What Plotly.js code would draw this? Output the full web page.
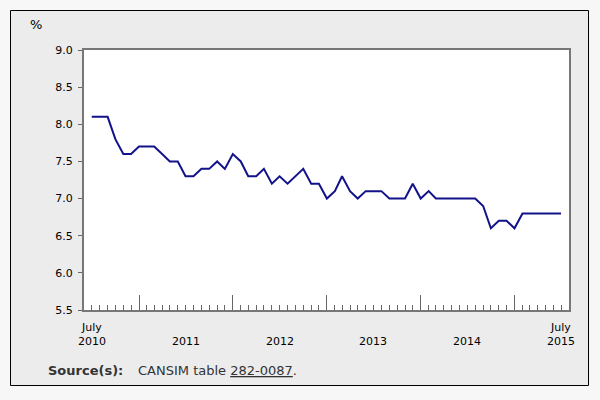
<!DOCTYPE html>
<html>
<head>
<meta charset="utf-8">
<script src="https://cdn.plot.ly/plotly-3.0.1.min.js"></script>
<style>html,body{margin:0;padding:0;background:#f7f7f7;}#chart{width:600px;height:400px;}</style>
</head>
<body>
<div id="chart"></div>
<script>
// Monthly rate (%), July 2010 to July 2015
const startYear = 2010;
const startMonth = 7;
const values = [
  8.1, 8.1, 8.1, 7.8, 7.6, 7.6,
  7.7, 7.7, 7.7, 7.6, 7.5, 7.5, 7.3, 7.3, 7.4, 7.4, 7.5, 7.4,
  7.6, 7.5, 7.3, 7.3, 7.4, 7.2, 7.3, 7.2, 7.3, 7.4, 7.2, 7.2,
  7.0, 7.1, 7.3, 7.1, 7.0, 7.1, 7.1, 7.1, 7.0, 7.0, 7.0, 7.2,
  7.0, 7.1, 7.0, 7.0, 7.0, 7.0, 7.0, 7.0, 6.9, 6.6, 6.7, 6.7,
  6.6, 6.8, 6.8, 6.8, 6.8, 6.8, 6.8
];
const majorTicks = ['2011-01-01', '2012-01-01', '2013-01-01', '2014-01-01', '2015-01-01'];
const labelDates = ['2010-07-01', '2011-07-01', '2012-07-01', '2013-07-01', '2014-07-01', '2015-07-01'];
const labelTexts = ['July<br>2010', '2011', '2012', '2013', '2014', 'July<br>2015'];
const yTitle = '%';
const sourceLabel = 'Source(s):';
const sourceText = 'CANSIM table ';
const sourceLink = '282-0087';

const dates = values.map((_, i) => {
  const m = startMonth - 1 + i;
  const y = startYear + Math.floor(m / 12);
  const mm = (m % 12) + 1;
  return y + '-' + String(mm).padStart(2, '0') + '-01';
});

// pixel helpers for paper coords (plot area: x 84..569, y 50..310)
const L = 84, R = 569, T = 50, B = 310;
const px = x => (x - L) / (R - L);
const py = y => (B - y) / (B - T);

const font = {family: 'DejaVu Sans, Verdana, sans-serif', size: 11, color: '#000'};

const trace = {
  type: 'scatter', mode: 'lines', x: dates, y: values,
  line: {color: '#12128a', width: 2}, hoverinfo: 'x+y'
};

const annotations = labelDates.map((d, i) => ({
  xref: 'x', yref: 'paper', x: d, y: py(348), xanchor: 'center', yanchor: 'bottom',
  text: labelTexts[i], showarrow: false, font: font, borderpad: 0, borderwidth: 0
}));
annotations.push({
  xref: 'paper', yref: 'paper', x: px(30), y: py(25), xanchor: 'left', yanchor: 'middle',
  text: yTitle, showarrow: false, font: {family: font.family, size: 13, color: '#000'}, borderpad: 0, borderwidth: 0
});
annotations.push({
  xref: 'paper', yref: 'paper', x: px(48), y: py(370), xanchor: 'left', yanchor: 'middle',
  text: '<b>' + sourceLabel + '</b>', showarrow: false,
  font: {family: font.family, size: 13, color: '#333'}, borderpad: 0, borderwidth: 0
});
annotations.push({
  xref: 'paper', yref: 'paper', x: px(138), y: py(370), xanchor: 'left', yanchor: 'middle',
  text: sourceText + '<span style="text-decoration:underline">' + sourceLink + '</span>.', showarrow: false,
  font: {family: font.family, size: 13, color: '#333'}, borderpad: 0, borderwidth: 0
});

const layout = {
  width: 600, height: 400,
  margin: {l: L, r: 600 - R, t: T, b: 400 - B, pad: 0},
  paper_bgcolor: '#f7f7f7', plot_bgcolor: '#ffffff',
  showlegend: false,
  font: font,
  xaxis: {
    type: 'date', range: ['2010-06-01', '2015-08-01'],
    tickmode: 'array', tickvals: majorTicks, ticks: 'inside', ticklen: 15, tickwidth: 1, tickcolor: '#666',
    showticklabels: false,
    minor: {tickmode: 'linear', tick0: '2010-06-01', dtick: 'M1', ticks: 'inside', ticklen: 5, tickwidth: 1, tickcolor: '#666', showgrid: false},
    showline: true, mirror: true, linecolor: '#777', linewidth: 2,
    showgrid: false, zeroline: false, fixedrange: true
  },
  yaxis: {
    range: [5.5, 9.0], tickmode: 'linear', tick0: 5.5, dtick: 0.5, tickformat: '.1f',
    ticks: 'outside', ticklen: 4, tickwidth: 1, tickcolor: '#666', ticklabelstandoff: 3,
    tickfont: font,
    showline: true, mirror: true, linecolor: '#777', linewidth: 2,
    showgrid: false, zeroline: false, fixedrange: true
  },
  shapes: [
    {type: 'rect', xref: 'paper', yref: 'paper', layer: 'below',
     x0: px(10.5), x1: px(588.5), y0: py(385.5), y1: py(10.5),
     fillcolor: '#ececec', line: {color: '#000', width: 1}},
    {type: 'rect', xref: 'paper', yref: 'paper', layer: 'below',
     x0: 0, x1: 1, y0: 0, y1: 1, fillcolor: '#ffffff', line: {width: 0}}
  ],
  annotations: annotations
};

Plotly.newPlot('chart', [trace], layout, {displayModeBar: false, staticPlot: true});
</script>
</body>
</html>
